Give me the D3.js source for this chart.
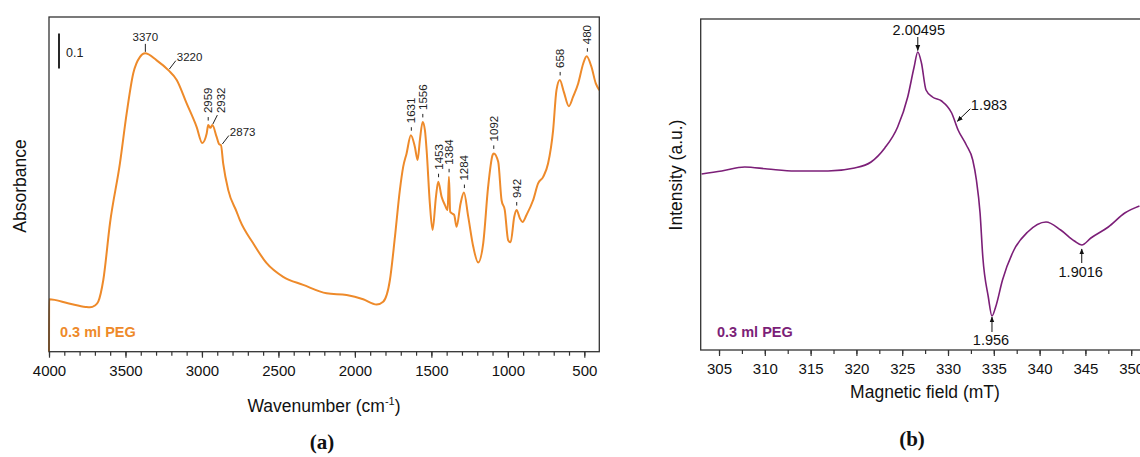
<!DOCTYPE html>
<html lang="en">
<head>
    <meta charset="UTF-8">
    <title>FTIR and EPR spectra</title>
    <script src="https://cdnjs.cloudflare.com/ajax/libs/d3/7.8.5/d3.min.js"></script>
    <style>
        body { margin: 0; background: #fff; }
        svg { display: block; font-family: "Liberation Sans", Arial, sans-serif; }
    </style>
</head>
<body>
    <div id="chart"></div>
    <script>
        // (a) FTIR: wavenumber (cm-1) / absorbance
        const ftirWavenumber = [4000, 3999, 3870, 3760, 3732, 3700, 3678, 3645, 3601, 3536, 3492, 3449, 3405, 3372, 3296, 3220, 3165, 3100, 3035, 2998,
            2969, 2959, 2945, 2932, 2904, 2887, 2876, 2861, 2828, 2773, 2752, 2665, 2577, 2469, 2338, 2185, 2054, 1946, 1858, 1815,
            1771, 1738, 1706, 1684, 1662, 1634, 1608, 1590, 1575, 1557, 1542, 1531, 1510, 1492, 1470, 1455, 1433, 1411, 1394, 1385,
            1377, 1364, 1351, 1335, 1309, 1287, 1259, 1226, 1194, 1161, 1129, 1100, 1092, 1063, 1041, 1020, 998, 982, 958, 943,
            921, 904, 878, 835, 802, 769, 737, 704, 682, 660, 634, 601, 573, 540, 507, 485, 453, 425, 402];
        const ftirAbsorbance = [0.000, 0.150, 0.138, 0.128, 0.127, 0.132, 0.143, 0.205, 0.368, 0.539, 0.682, 0.796, 0.843, 0.853, 0.833, 0.805, 0.777, 0.710, 0.643, 0.597,
            0.624, 0.648, 0.640, 0.648, 0.614, 0.593, 0.591, 0.538, 0.462, 0.400, 0.376, 0.310, 0.253, 0.214, 0.191, 0.167, 0.162, 0.150, 0.135, 0.143,
            0.205, 0.329, 0.462, 0.529, 0.567, 0.619, 0.586, 0.548, 0.605, 0.657, 0.633, 0.576, 0.424, 0.348, 0.443, 0.486, 0.443, 0.419, 0.405, 0.500,
            0.400, 0.395, 0.391, 0.357, 0.424, 0.455, 0.386, 0.300, 0.255, 0.310, 0.471, 0.562, 0.567, 0.543, 0.433, 0.405, 0.319, 0.313, 0.386, 0.405,
            0.381, 0.371, 0.391, 0.433, 0.481, 0.500, 0.538, 0.633, 0.748, 0.777, 0.743, 0.702, 0.729, 0.767, 0.824, 0.845, 0.814, 0.767, 0.748];
        const ftirTicks = [4000, 3500, 3000, 2500, 2000, 1500, 1000, 500];
        const ftirPeaks = [3370, 3220, 2959, 2932, 2873, 1631, 1556, 1453, 1384, 1284, 1092, 942, 658, 480];

        // (b) EPR: magnetic field (mT) / intensity (a.u.)
        const eprField = [303.1, 305.3, 307.8, 310.3, 313.3, 316.9, 319.8, 321.6, 323.1, 324.5, 325.6, 326.3, 326.7, 327.1, 327.6, 328.3, 329.3, 330.4, 331.1, 332.0,
            332.7, 333.1, 333.5, 333.8, 334.4, 334.8, 335.2, 335.95, 337.2, 338.7, 340.7, 342.3, 343.8, 344.6, 345.6, 347.5, 349.3, 350.9];
        const eprIntensity = [-0.03, 0.00, 0.04, 0.02, 0.00, 0.00, 0.03, 0.09, 0.23, 0.44, 0.74, 1.04, 1.19, 1.08, 0.81, 0.74, 0.70, 0.58, 0.41, 0.26,
            0.11, -0.09, -0.42, -0.86, -1.26, -1.45, -1.36, -1.09, -0.79, -0.61, -0.51, -0.59, -0.70, -0.74, -0.67, -0.56, -0.42, -0.35];
        const eprTicks = [305, 310, 315, 320, 325, 330, 335, 340, 345, 350];
        const gLabels = ['2.00495', '1.983', '1.956', '1.9016'];
        const gFields = [326.7, 330.8, 334.8, 344.6];

        const orange = '#ee8a2a';
        const purple = '#7c1f78';

        const svg = d3.select('#chart').append('svg')
            .attr('width', 1140)
            .attr('height', 457);

        svg.append('defs').append('marker')
            .attr('id', 'arrow')
            .attr('viewBox', '0 0 10 10')
            .attr('refX', 9).attr('refY', 5)
            .attr('markerWidth', 6).attr('markerHeight', 6)
            .attr('markerUnits', 'userSpaceOnUse')
            .attr('orient', 'auto')
            .append('path').attr('d', 'M0,1 L10,5 L0,9 z').attr('fill', '#111');

        // ---------- (a) FTIR ----------
        const xA = d3.scaleLinear().domain([4000, 402]).range([49, 599.3]);
        const yA = d3.scaleLinear().domain([0, 0.957]).range([351.7, 17]);
        const ftir = ftirWavenumber.map((w, i) => [w, ftirAbsorbance[i]]);

        function absAt(w) {
            let best = 0;
            ftirWavenumber.forEach((v, i) => { if (Math.abs(v - w) < Math.abs(ftirWavenumber[best] - w)) best = i; });
            return ftirAbsorbance[best];
        }

        const gA = svg.append('g');
        gA.append('path')
            .datum(ftir)
            .attr('fill', 'none')
            .attr('stroke', orange)
            .attr('stroke-width', 2)
            .attr('d', d3.line().x(d => xA(d[0])).y(d => yA(d[1])).curve(d3.curveMonotoneX));

        gA.append('rect')
            .attr('x', 49).attr('y', 17).attr('width', 599.3 - 49).attr('height', 351.7 - 17)
            .attr('fill', 'none').attr('stroke', '#333').attr('stroke-width', 1.3);

        // minor ticks every 100
        gA.append('g').attr('transform', 'translate(0,351.7)')
            .call(d3.axisBottom(xA).tickValues(d3.range(4000, 402, -100)).tickSize(4).tickFormat(''))
            .call(g => g.select('.domain').remove());
        gA.append('g').attr('transform', 'translate(0,351.7)')
            .call(d3.axisBottom(xA).tickValues(ftirTicks).tickSize(6).tickPadding(8).tickFormat(d3.format('d')))
            .call(g => g.select('.domain').remove())
            .call(g => g.selectAll('text').attr('font-size', 15).attr('fill', '#111'));
        gA.selectAll('.tick line').attr('stroke', '#333').attr('stroke-width', 1.2);

        const xt = gA.append('text')
            .attr('x', 324).attr('y', 412)
            .attr('text-anchor', 'middle').attr('font-size', 17.5).attr('fill', '#111')
            .text('Wavenumber (cm');
        xt.append('tspan').attr('dy', -7).attr('font-size', 11).text('-1');
        xt.append('tspan').attr('dy', 7).text(')');

        gA.append('text')
            .attr('transform', 'translate(26,186) rotate(-90)')
            .attr('text-anchor', 'middle').attr('font-size', 17.5).attr('fill', '#111')
            .text('Absorbance');

        // 0.1 scale bar
        gA.append('line')
            .attr('x1', 59).attr('x2', 59).attr('y1', yA(0.91)).attr('y2', yA(0.81))
            .attr('stroke', '#111').attr('stroke-width', 1.8);
        gA.append('text').attr('x', 66).attr('y', 56.5).attr('font-size', 12.5).attr('fill', '#222').text('0.1');

        gA.append('text')
            .attr('x', 60).attr('y', 336.5)
            .attr('font-size', 14.5).attr('font-weight', 'bold').attr('fill', orange)
            .text('0.3 ml PEG');

        // peak labels
        ftirPeaks.forEach(w => {
            const px = xA(w), py = yA(absAt(w));
            const lab = String(w);
            if (w === 3370) {
                gA.append('line').attr('x1', px).attr('x2', px).attr('y1', py - 9.5).attr('y2', py - 1.5)
                    .attr('stroke', '#222').attr('stroke-width', 1);
                gA.append('text').attr('x', px).attr('y', py - 12).attr('text-anchor', 'middle')
                    .attr('font-size', 11.5).attr('fill', '#222').text(lab);
            } else if (w === 3220 || w === 2873) {
                gA.append('line').attr('x1', px + 1).attr('y1', py - 1).attr('x2', px + 7.5).attr('y2', py - 9.5)
                    .attr('stroke', '#222').attr('stroke-width', 1);
                gA.append('text').attr('x', px + 8.5).attr('y', py - 9.5)
                    .attr('font-size', 11.5).attr('fill', '#222').text(lab);
            } else if (w === 2932) {
                gA.append('line').attr('x1', px + 0.5).attr('y1', py - 1).attr('x2', px + 5).attr('y2', py - 10)
                    .attr('stroke', '#222').attr('stroke-width', 1);
                gA.append('text').attr('transform', `translate(${px + 8.5},${py - 12}) rotate(-90)`)
                    .attr('dy', '0.35em').attr('font-size', 11.5).attr('fill', '#222').text(lab);
            } else {
                gA.append('line').attr('x1', px).attr('x2', px).attr('y1', py - 8).attr('y2', py - 4.5)
                    .attr('stroke', '#222').attr('stroke-width', 1);
                gA.append('text').attr('transform', `translate(${px},${py - 12}) rotate(-90)`)
                    .attr('dy', '0.35em').attr('font-size', 11.5).attr('fill', '#222').text(lab);
            }
        });

        svg.append('text')
            .attr('x', 322).attr('y', 449)
            .attr('text-anchor', 'middle')
            .attr('font-family', '"Liberation Serif", "Times New Roman", serif')
            .attr('font-size', 21).attr('font-weight', 'bold').attr('fill', '#111')
            .text('(a)');

        // ---------- (b) EPR ----------
        const xB = d3.scaleLinear().domain([303, 355]).range([700.7, 1177]);
        const yB = d3.scaleLinear().domain([-1.79, 1.52]).range([350, 19]);
        const epr = eprField.map((f, i) => [f, eprIntensity[i]]);
        const intAt = f => {
            const i = d3.bisectLeft(eprField, f);
            if (i <= 0) return eprIntensity[0];
            if (i >= eprField.length) return eprIntensity[eprField.length - 1];
            const t = (f - eprField[i - 1]) / (eprField[i] - eprField[i - 1]);
            return eprIntensity[i - 1] + t * (eprIntensity[i] - eprIntensity[i - 1]);
        };

        const gB = svg.append('g');
        gB.append('path')
            .datum(epr)
            .attr('fill', 'none')
            .attr('stroke', purple)
            .attr('stroke-width', 1.6)
            .attr('d', d3.line().x(d => xB(d[0])).y(d => yB(d[1])).curve(d3.curveMonotoneX));

        gB.append('rect')
            .attr('x', 700.7).attr('y', 19).attr('width', 1177 - 700.7).attr('height', 350 - 19)
            .attr('fill', 'none').attr('stroke', '#333').attr('stroke-width', 1.3);

        gB.append('g').attr('transform', 'translate(0,350)')
            .call(d3.axisBottom(xB).tickValues(d3.range(305, 355, 2.5)).tickSize(4).tickFormat(''))
            .call(g => g.select('.domain').remove());
        gB.append('g').attr('transform', 'translate(0,350)')
            .call(d3.axisBottom(xB).tickValues(eprTicks).tickSize(6).tickPadding(7).tickFormat(d3.format('d')))
            .call(g => g.select('.domain').remove())
            .call(g => g.selectAll('text').attr('font-size', 15).attr('fill', '#111'));
        gB.selectAll('.tick line').attr('stroke', '#333').attr('stroke-width', 1.2);

        gB.append('text')
            .attr('x', 925).attr('y', 398)
            .attr('text-anchor', 'middle').attr('font-size', 17.5).attr('fill', '#111')
            .text('Magnetic field (mT)');

        gB.append('text')
            .attr('transform', 'translate(682,175) rotate(-90)')
            .attr('text-anchor', 'middle').attr('font-size', 17.5).attr('fill', '#111')
            .text('Intensity (a.u.)');

        gB.append('text')
            .attr('x', 717).attr('y', 336.5)
            .attr('font-size', 14.5).attr('font-weight', 'bold').attr('fill', purple)
            .text('0.3 ml PEG');

        // g-factor arrows
        gLabels.forEach((lab, i) => {
            const px = xB(gFields[i]), py = yB(intAt(gFields[i]));
            let tail, tip, tx, ty, anchor;
            if (i === 0) { tail = [px, py - 15]; tip = [px, py - 1.5]; tx = px + 1; ty = py - 17; anchor = 'middle'; }
            else if (i === 1) { tail = [px + 15, py - 14]; tip = [px + 2, py - 1.5]; tx = px + 15.5; ty = py - 12.5; anchor = 'start'; }
            else if (i === 2) { tail = [px, py + 16]; tip = [px, py + 1]; tx = px - 1; ty = py + 28.5; anchor = 'middle'; }
            else { tail = [px, py + 18]; tip = [px, py + 4]; tx = px - 1; ty = py + 31.5; anchor = 'middle'; }
            gB.append('line')
                .attr('x1', tail[0]).attr('y1', tail[1]).attr('x2', tip[0]).attr('y2', tip[1])
                .attr('stroke', '#111').attr('stroke-width', 1)
                .attr('marker-end', 'url(#arrow)');
            gB.append('text').attr('x', tx).attr('y', ty).attr('text-anchor', anchor)
                .attr('font-size', 14.5).attr('fill', '#111').text(lab);
        });

        svg.append('text')
            .attr('x', 912).attr('y', 446)
            .attr('text-anchor', 'middle')
            .attr('font-family', '"Liberation Serif", "Times New Roman", serif')
            .attr('font-size', 21).attr('font-weight', 'bold').attr('fill', '#111')
            .text('(b)');
    </script>
</body>
</html>
